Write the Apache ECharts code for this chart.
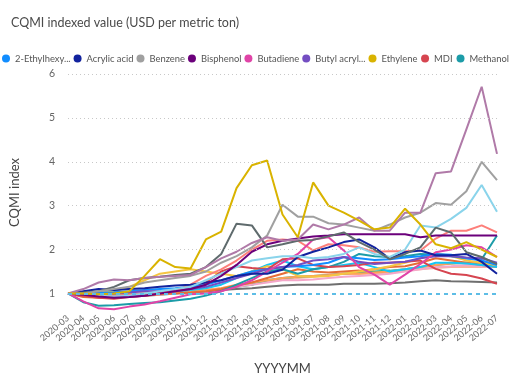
<!DOCTYPE html>
<html>
<head>
<meta charset="utf-8">
<script src="https://cdn.jsdelivr.net/npm/echarts@6/dist/echarts.min.js"></script>
<style>
html,body{margin:0;padding:0;background:#fff;}
#c{width:511px;height:380px;}
</style>
</head>
<body>
<div id="c"></div>
<script>
const months = ['2020-03','2020-04','2020-05','2020-06','2020-07','2020-08','2020-09','2020-10','2020-11','2020-12',
  '2021-01','2021-02','2021-03','2021-04','2021-05','2021-06','2021-07','2021-08','2021-09','2021-10','2021-11','2021-12',
  '2022-01','2022-02','2022-03','2022-04','2022-05','2022-06','2022-07'];
const yTicks = [1,2,3,4,5,6];
const baseline = 1;

const legendNamesA = ['2-Ethylhexyl acrylate','Acrylic acid','Benzene','Bisphenol','Butadiene','Butyl acrylate','Ethylene'];
const legendNamesB = ['MDI','Methanol'];
const legendShort = {'2-Ethylhexyl acrylate':'2-Ethylhexy...','Butyl acrylate':'Butyl acryl...'};

const ethylhexyl = [1,1.0,1.02,1.03,1.05,1.08,1.1,1.12,1.15,1.2,1.3,1.4,1.5,1.55,1.6,1.62,1.65,1.7,1.83,1.8,1.76,1.78,1.82,1.85,1.9,1.88,1.8,1.75,1.65];
const acrylicAcid = [1,1.05,1.1,1.08,1.1,1.12,1.15,1.18,1.2,1.25,1.3,1.4,1.45,1.45,1.54,1.83,1.95,2.05,2.17,2.23,2.05,1.79,1.94,1.98,1.87,1.87,1.9,1.72,1.45];
const benzene = [1,1.0,1.05,1.1,1.15,1.25,1.3,1.35,1.4,1.5,1.7,1.85,2.05,2.32,3.02,2.75,2.75,2.6,2.57,2.5,2.43,2.57,2.73,2.84,3.06,3.02,3.33,4.0,3.58];
const bisphenol = [1,0.97,0.93,0.9,0.92,0.95,1.0,1.05,1.1,1.2,1.4,1.65,1.95,2.12,2.2,2.25,2.3,2.32,2.35,2.35,2.35,2.35,2.35,2.28,2.32,2.32,2.32,2.32,2.32];
const butadiene = [1,0.82,0.66,0.64,0.7,0.75,0.82,0.9,0.98,1.0,1.05,1.15,1.3,1.5,1.7,1.9,2.23,2.28,1.98,1.6,1.43,1.2,1.43,1.67,1.94,2.0,2.1,2.05,1.83];
const butylAcrylate = [1,0.98,0.97,1.0,1.02,1.05,1.05,1.08,1.1,1.15,1.25,1.35,1.45,1.55,1.6,1.65,1.75,1.78,1.83,1.72,1.67,1.7,1.72,1.8,1.85,1.85,1.82,1.8,1.7];
const ethylene = [1,1.0,0.98,1.0,1.05,1.4,1.78,1.6,1.57,2.23,2.41,3.4,3.92,4.03,2.8,2.28,3.53,3.0,2.84,2.66,2.46,2.5,2.93,2.57,2.12,2.03,2.17,2.0,1.83];
const mdi = [1,0.95,0.9,0.88,0.92,0.95,1.0,1.05,1.1,1.25,1.5,1.62,1.58,1.55,1.78,1.8,1.65,1.6,1.62,1.65,1.7,1.7,1.72,1.75,1.56,1.45,1.42,1.34,1.22];
const methanol = [1,0.8,0.72,0.73,0.76,0.78,0.8,0.84,0.88,0.95,1.05,1.2,1.35,1.5,1.55,1.45,1.55,1.6,1.72,1.9,1.85,1.83,1.85,1.9,1.88,1.85,1.8,1.78,2.32];

const other1 = [1,1.1,1.25,1.32,1.3,1.35,1.38,1.4,1.42,1.6,1.8,1.95,2.15,2.28,2.2,2.23,2.57,2.46,2.57,2.73,2.43,2.43,2.84,2.84,3.74,3.78,4.74,5.71,4.18];
const other2 = [1,1.02,1.05,1.15,1.3,1.35,1.38,1.42,1.45,1.6,1.9,2.59,2.55,2.05,2.12,2.2,2.22,2.3,2.39,2.17,2.0,1.78,1.9,2.05,2.5,2.39,1.94,1.83,1.67];
const other3 = [1,1.0,0.95,0.93,0.95,1.0,1.05,1.1,1.15,1.3,1.45,1.6,1.75,1.8,1.85,1.85,1.8,1.83,1.9,2.05,1.9,1.83,2.0,2.55,2.5,2.7,2.95,3.47,2.86];
const other4 = [1,0.98,0.95,0.95,0.97,1.0,1.02,1.05,1.2,1.4,1.55,1.75,2.0,2.2,2.23,2.2,1.98,2.12,2.1,2.05,1.95,1.96,1.96,1.98,2.25,2.43,2.43,2.55,2.39];
const other5 = [1,0.97,0.95,0.95,0.98,1.0,1.02,1.03,1.05,1.08,1.12,1.2,1.25,1.3,1.35,1.38,1.4,1.42,1.45,1.45,1.48,1.5,1.55,1.6,1.65,1.68,1.7,1.68,1.65];
const other6 = [1,0.92,0.9,0.9,0.93,0.95,0.98,1.0,1.02,1.05,1.1,1.18,1.25,1.35,1.45,1.55,1.5,1.48,1.5,1.52,1.55,1.6,1.62,1.7,1.8,1.75,1.7,1.65,1.6];
const other7 = [1,0.97,0.96,0.97,0.98,1.0,1.0,1.02,1.03,1.05,1.08,1.1,1.12,1.15,1.18,1.2,1.2,1.2,1.22,1.22,1.22,1.23,1.25,1.28,1.3,1.28,1.27,1.26,1.25];
const other8 = [1,0.95,0.92,0.9,0.92,0.95,0.97,1.0,1.02,1.05,1.1,1.15,1.2,1.25,1.3,1.3,1.32,1.35,1.38,1.4,1.42,1.45,1.5,1.55,1.6,1.62,1.65,1.62,1.6];
const other9 = [1,1.0,1.02,1.05,1.15,1.3,1.45,1.5,1.55,1.5,1.45,1.4,1.5,1.62,1.55,1.4,1.38,1.4,1.45,1.5,1.55,1.62,1.7,1.8,1.92,1.85,1.75,1.7,1.65];
const other10 = [1,0.98,0.95,0.95,0.97,1.0,1.02,1.05,1.08,1.12,1.2,1.35,1.5,1.65,1.75,1.62,1.55,1.6,1.65,1.7,1.6,1.5,1.55,1.6,1.7,1.7,1.68,1.65,1.6];
const other11 = [1,0.95,0.93,0.92,0.93,0.95,0.97,1.0,1.02,1.05,1.1,1.15,1.2,1.3,1.35,1.38,1.4,1.42,1.45,1.48,1.5,1.52,1.55,1.6,1.65,1.68,1.7,1.7,1.68];
const other12 = [1,0.98,0.95,0.92,0.95,0.98,1.0,1.02,1.05,1.08,1.12,1.18,1.22,1.28,1.32,1.35,1.38,1.42,1.45,1.45,1.45,1.48,1.52,1.55,1.58,1.6,1.6,1.6,1.6];

const seriesDefs = [
  ['Other 12', other12, '#F7B49A'],
  ['Other 11', other11, '#2DB38F'],
  ['Other 8', other8, '#F4A6C9'],
  ['Other 7', other7, '#6F6F6F'],
  ['Other 5', other5, '#FFA058'],
  ['Other 6', other6, '#E66C37'],
  ['Other 10', other10, '#15C6F4'],
  ['Other 9', other9, '#F5C542'],
  ['Methanol', methanol, '#1C9CA8'],
  ['MDI', mdi, '#D64550'],
  ['2-Ethylhexyl acrylate', ethylhexyl, '#118DFF'],
  ['Butyl acrylate', butylAcrylate, '#744EC2'],
  ['Other 4', other4, '#FD7F7A'],
  ['Butadiene', butadiene, '#E044A7'],
  ['Acrylic acid', acrylicAcid, '#12239E'],
  ['Other 3', other3, '#8AD4EB'],
  ['Bisphenol', bisphenol, '#6B007B'],
  ['Other 2', other2, '#5F6B6D'],
  ['Benzene', benzene, '#A0A0A0'],
  ['Other 1', other1, '#B07AA8'],
  ['Ethylene', ethylene, '#D9B300']
];

const FONT = "Lato, 'Noto Sans', sans-serif";

const series = seriesDefs.map(([name, data, color]) => ({
  name, type: 'line', data, symbol: 'none', smooth: false,
  lineStyle: {width: 2, color}, itemStyle: {color},
  emphasis: {disabled: true},
  z: 2
}));

series.unshift({
  name: '_grid', type: 'line', data: [], silent: true, z: 1,
  markLine: {
    silent: true, symbol: 'none', label: {show: false},
    data: yTicks.map(v => v === baseline
      ? {yAxis: v, lineStyle: {color: '#5DBDE6', type: [4, 4], width: 2}}
      : {yAxis: v, lineStyle: {color: '#C8C8C8', type: [1, 3], width: 1}})
  }
});

const legendBase = {
  top: 54, padding: 0,
  icon: 'circle', itemWidth: 8, itemHeight: 8,
  textStyle: {fontFamily: FONT, fontSize: 9.4, color: '#555555'},
  formatter: n => legendShort[n] || n
};

const chart = echarts.init(document.getElementById('c'), null, {renderer: 'canvas'});
chart.setOption({
  animation: false,
  backgroundColor: '#ffffff',
  title: {
    text: 'CQMI indexed value (USD per metric ton)',
    left: 6, top: 11,
    textStyle: {fontFamily: FONT, fontSize: 12.5, fontWeight: 'normal', color: '#4a4a4a'}
  },
  legend: [
    Object.assign({}, legendBase, {data: legendNamesA, left: 2, itemGap: 3}),
    Object.assign({}, legendBase, {data: legendNamesB, right: 2, itemGap: 4})
  ],
  grid: {left: 65, right: 14, top: 74, bottom: 65, containLabel: false},
  xAxis: {
    type: 'category', data: months, boundaryGap: false,
    axisLine: {show: false}, axisTick: {show: false},
    axisLabel: {rotate: 40, fontFamily: FONT, fontSize: 9, color: '#666666', margin: 6, interval: 0},
    name: 'YYYYMM', nameLocation: 'middle', nameGap: 51,
    nameTextStyle: {fontFamily: FONT, fontSize: 13, color: '#444444'}
  },
  yAxis: {
    type: 'value', min: 0.6, max: 6,
    axisLine: {show: false}, axisTick: {show: false},
    splitLine: {show: false},
    axisLabel: {customValues: yTicks, fontFamily: FONT, fontSize: 10.5, color: '#666666', margin: 13},
    name: 'CQMI index', nameLocation: 'middle', nameGap: 47,
    nameTextStyle: {fontFamily: FONT, fontSize: 13, color: '#444444'}
  },
  series
});
</script>
</body>
</html>
